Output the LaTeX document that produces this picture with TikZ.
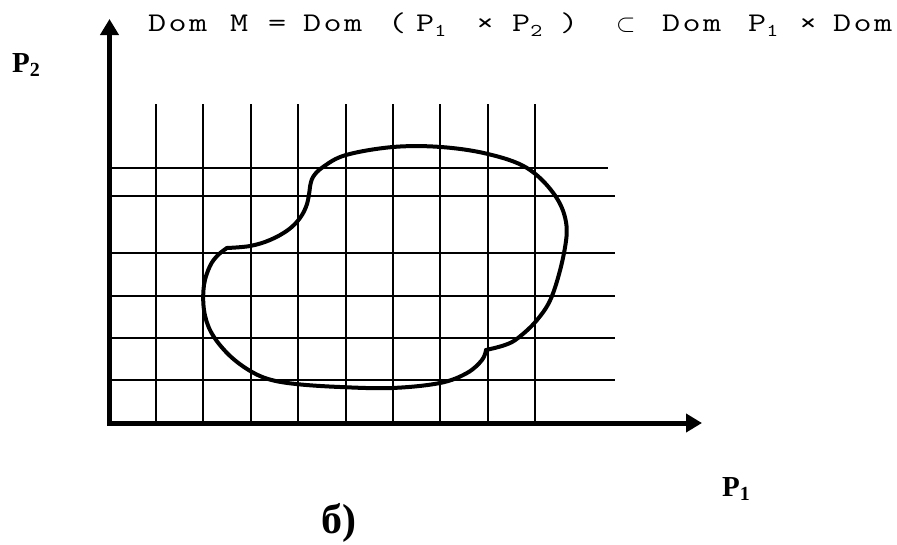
\documentclass[tikz,border=0pt]{standalone}
\usepackage{fontspec}
\usepackage{graphicx}
\usetikzlibrary{arrows.meta}
\newfontfamily\lsb{Liberation Serif}
\newcommand\sx[1]{\scalebox{1.3}[1]{#1}}
\newcommand\tc[1]{\makebox[20.4pt][l]{\sx{#1}}}
\newcommand\tsub[1]{\raisebox{-5pt}{\fontsize{18}{18}\selectfont\sx{#1}}}
\tikzset{
  gridline/.style={line width=2pt, black},
  axisline/.style={line width=5pt, black, -{Triangle[length=16pt,width=18pt]}},
  blobline/.style={line width=4pt, black, line cap=round, line join=round},
  lab/.style={inner sep=0pt, anchor=base west, font=\lsb\bfseries\fontsize{29}{29}\selectfont},
  ttl/.style={inner sep=0pt, anchor=base west, font=\ttfamily\fontsize{27}{27}\selectfont\addfontfeatures{FakeBold=2}},
}
\begin{document}
\begin{tikzpicture}[x=1pt,y=-1pt]
\useasboundingbox (0,0) rectangle (897,544);
% grid
\foreach \i in {0,...,8} \draw[gridline] ({156+47.4*\i},104) -- ({156+47.4*\i},423);
\draw[gridline] (109,168) -- (608,168);
\foreach \yy in {196,253,296,338,380} \draw[gridline] (109,\yy) -- (615,\yy);
% axes
\coordinate (Ov) at (109.5,425.5);
\coordinate (Oh) at (107,423);
\coordinate (ytip) at (109.5,19);
\coordinate (xtip) at (702,423);
\draw[axisline] (Ov) -- (ytip);
\draw[axisline] (Oh) -- (xtip);
% blob
\draw[blobline] plot[smooth, tension=0.6] coordinates {(310,187) (313,177) (323,167) (346,155) (393,147) (441,147) (488,154) (527,168) (554,194) (566,222) (564,253) (552,296) (537,320) (518,338) (505,345) (486,350)};
\draw[blobline] plot[smooth, tension=0.6] coordinates {(486,350) (482,360) (467,373) (440,383) (392,388) (340,387) (296,384) (268,379) (247,369) (227,353) (211,332) (204,310) (204,285) (210,266) (218,255) (227,248)};
\draw[blobline] plot[smooth, tension=0.6] coordinates {(227,248) (250,246) (270,240) (288,230) (300,218) (307,204) (310,187)};
% title
\node[ttl] (t1) at (148,31.7) {\tc{D}\tc{o}\sx{m}};
\node[ttl] (t2) at (230,31.7) {\sx{M}};
\node[ttl] (t3) at (268,31.7) {\sx{=}};
\node[ttl] (t4) at (303,31.7) {\tc{D}\tc{o}\sx{m}};
\node[ttl] (t5) at (388,31.7) {\sx{(}};
\node[ttl] (t6) at (416,31.7) {\sx{P}\tsub{1}};
\node[ttl] (t7) at (476,31.7) {\sx{×}};
\node[ttl] (t8) at (512,31.7) {\sx{P}\tsub{2}};
\node[ttl] (t9) at (560,31.7) {\sx{)}};
\node[ttl] (t10) at (616,31.7) {$\subset$};
\node[ttl] (t11) at (662,31.7) {\tc{D}\tc{o}\sx{m}};
\node[ttl] (t12) at (748,31.7) {\sx{P}\tsub{1}};
\node[ttl] (t13) at (799,31.7) {\sx{×}};
\node[ttl] (t14) at (833,31.7) {\tc{D}\tc{o}\sx{m}};
% labels
\node[lab] (p2) at (12,72.7) {P\raisebox{-4pt}{\fontsize{20}{20}\selectfont 2}};
\node[lab] (p1) at (722,496) {P\raisebox{-4pt}{\fontsize{20}{20}\selectfont 1}};
\node[lab, font=\lsb\bfseries\fontsize{42}{42}\selectfont] (lb) at (321,533) {б)};
\end{tikzpicture}
\end{document}
